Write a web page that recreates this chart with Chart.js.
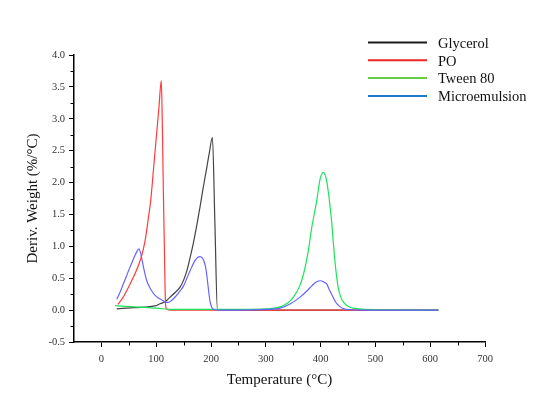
<!DOCTYPE html>
<html>
<head>
<meta charset="utf-8">
<script src="https://cdn.jsdelivr.net/npm/chart.js@4.4.1/dist/chart.umd.min.js"></script>
<style>
  body { margin: 0; background: #fff; }
</style>
</head>
<body>
<canvas id="dtgChart" width="550" height="397"></canvas>
<script>
// temperatures (°C) and derivative weight (%/°C)
const glycerolT = [28, 60, 100, 107, 116, 125, 135, 143.6, 150, 156, 162, 168, 174, 180, 186, 192, 197, 202.6, 207, 211.7, 230, 615];
const glycerolV = [0.02, 0.04, 0.07, 0.1, 0.13, 0.2, 0.28, 0.36, 0.47, 0.62, 0.83, 1.06, 1.33, 1.62, 1.93, 2.22, 2.47, 2.71, 1.4, 0.01, 0, 0];

const poT = [30, 38, 46, 58, 67.5, 74, 80, 86, 90, 95, 100, 105, 109.3, 111, 113, 115, 117, 119, 125, 615];
const poV = [0.09, 0.18, 0.3, 0.51, 0.7, 0.87, 1.1, 1.46, 1.72, 2.2, 2.69, 3.18, 3.6, 3.0, 1.9, 0.93, 0.1, 0.02, 0, 0];

const tweenT = [25, 60, 100, 130, 200, 300, 326, 340, 350, 362, 369, 377, 384, 393, 399, 405, 411, 416, 420, 426, 432, 437, 442, 450, 460, 480, 615];
const tweenV = [0.07, 0.05, 0.03, 0.01, 0.01, 0.02, 0.05, 0.11, 0.2, 0.38, 0.57, 0.9, 1.3, 1.72, 2.05, 2.16, 2.03, 1.72, 1.4, 0.78, 0.36, 0.2, 0.12, 0.06, 0.03, 0.01, 0];

const microT = [28, 34, 40, 46, 52, 58, 63, 68.5, 72, 76.6, 82.8, 88, 92, 98, 104, 110, 116, 122, 128, 136, 143.6, 150, 156, 162, 171, 176, 180, 184, 187, 190, 192, 195, 198, 201, 205, 215, 250, 300, 326, 345, 362, 375, 384, 392, 400, 406, 411, 417, 423, 428, 433, 440, 450, 480, 615];
const microV = [0.17, 0.28, 0.41, 0.54, 0.67, 0.79, 0.89, 0.96, 0.88, 0.68, 0.46, 0.36, 0.3, 0.23, 0.19, 0.16, 0.13, 0.12, 0.15, 0.22, 0.3, 0.38, 0.5, 0.62, 0.78, 0.83, 0.84, 0.82, 0.77, 0.68, 0.57, 0.35, 0.15, 0.05, 0.01, 0, 0, 0.01, 0.03, 0.1, 0.2, 0.3, 0.38, 0.44, 0.46, 0.44, 0.41, 0.3, 0.2, 0.12, 0.07, 0.03, 0.01, 0, 0];

const xTicks = [0, 100, 200, 300, 400, 500, 600, 700];
const yTicks = [-0.5, 0, 0.5, 1, 1.5, 2, 2.5, 3, 3.5, 4];

const legendNames = ["Glycerol", "PO", "Tween 80", "Microemulsion"];
const legendColors = ["#1a1a1a", "#ee2424", "#66cc44", "#1f78c8"];

const serif = "'Liberation Serif', 'DejaVu Serif', serif";

const toPoints = (xs, ys) => xs.map((x, i) => ({ x: x, y: ys[i] }));

const curve = (label, xs, ys, color, order) => ({
  label: label,
  data: toPoints(xs, ys),
  borderColor: color,
  borderWidth: 1.2,
  pointRadius: 0,
  fill: false,
  cubicInterpolationMode: "monotone",
  order: order,
});

// minor ticks between the labelled ones
const minorTicks = {
  id: "minorTicks",
  afterDraw(chart) {
    const c = chart.ctx;
    const xs = chart.scales.x;
    const ys = chart.scales.y;
    const area = chart.chartArea;
    c.save();
    c.strokeStyle = "#000";
    c.lineWidth = 1;
    c.beginPath();
    for (let v = 50; v < 700; v += 100) {
      const px = Math.round(xs.getPixelForValue(v)) + 0.5;
      c.moveTo(px, area.bottom);
      c.lineTo(px, area.bottom + 3.5);
    }
    for (let v = -0.25; v < 4; v += 0.5) {
      const py = Math.round(ys.getPixelForValue(v)) + 0.5;
      c.moveTo(area.left, py);
      c.lineTo(area.left - 3.5, py);
    }
    c.stroke();
    c.restore();
  },
};

// legend as drawn in the figure: long line keys, top right
const lineLegend = {
  id: "lineLegend",
  afterDraw(chart) {
    const c = chart.ctx;
    c.save();
    c.font = "14.5px " + serif;
    c.textBaseline = "middle";
    legendNames.forEach((name, i) => {
      const y = 42.5 + i * 17.8;
      c.strokeStyle = legendColors[i];
      c.lineWidth = 2;
      c.beginPath();
      c.moveTo(368, y);
      c.lineTo(427, y);
      c.stroke();
      c.fillStyle = "#111";
      c.fillText(name, 438, y + 1.5);
    });
    c.restore();
  },
};

new Chart(document.getElementById("dtgChart"), {
  type: "line",
  data: {
    datasets: [
      curve("Glycerol", glycerolT, glycerolV, "#444444", 4),
      curve("PO", poT, poV, "#ff3c3c", 3),
      curve("Tween 80", tweenT, tweenV, "#1ee35a", 2),
      curve("Microemulsion", microT, microV, "#6464ff", 1),
    ],
  },
  options: {
    responsive: false,
    devicePixelRatio: 1,
    animation: false,
    layout: { padding: { left: 0, top: 55, right: 65, bottom: 0 } },
    plugins: {
      legend: { display: false },
      tooltip: { enabled: false },
    },
    scales: {
      x: {
        type: "linear",
        min: -50,
        max: 700,
        afterBuildTicks: (axis) => {
          axis.ticks = xTicks.map((v) => ({ value: v }));
        },
        afterFit: (axis) => {
          axis.height = 55;
        },
        border: { display: true, color: "#000", width: 1.5 },
        grid: { drawOnChartArea: false, drawTicks: true, tickLength: 5, tickColor: "#000", tickWidth: 1 },
        ticks: {
          padding: 6,
          maxRotation: 0,
          color: "#333",
          font: { family: serif, size: 10.5 },
        },
        title: {
          display: true,
          text: "Temperature (°C)",
          color: "#111",
          font: { family: serif, size: 15 },
          padding: { top: 0, bottom: 8 },
        },
      },
      y: {
        type: "linear",
        min: -0.5,
        max: 4,
        afterBuildTicks: (axis) => {
          axis.ticks = yTicks.map((v) => ({ value: v }));
        },
        afterFit: (axis) => {
          axis.width = 74;
        },
        border: { display: true, color: "#000", width: 1.5 },
        grid: { drawOnChartArea: false, drawTicks: true, tickLength: 5, tickColor: "#000", tickWidth: 1 },
        ticks: {
          padding: 4,
          color: "#333",
          font: { family: serif, size: 10.5 },
          callback: (v) => v.toFixed(1),
        },
        title: {
          display: true,
          text: "Deriv. Weight (%/°C)",
          color: "#111",
          font: { family: serif, size: 15 },
          padding: { top: 24, bottom: 0 },
        },
      },
    },
  },
  plugins: [minorTicks, lineLegend],
});
</script>
</body>
</html>
